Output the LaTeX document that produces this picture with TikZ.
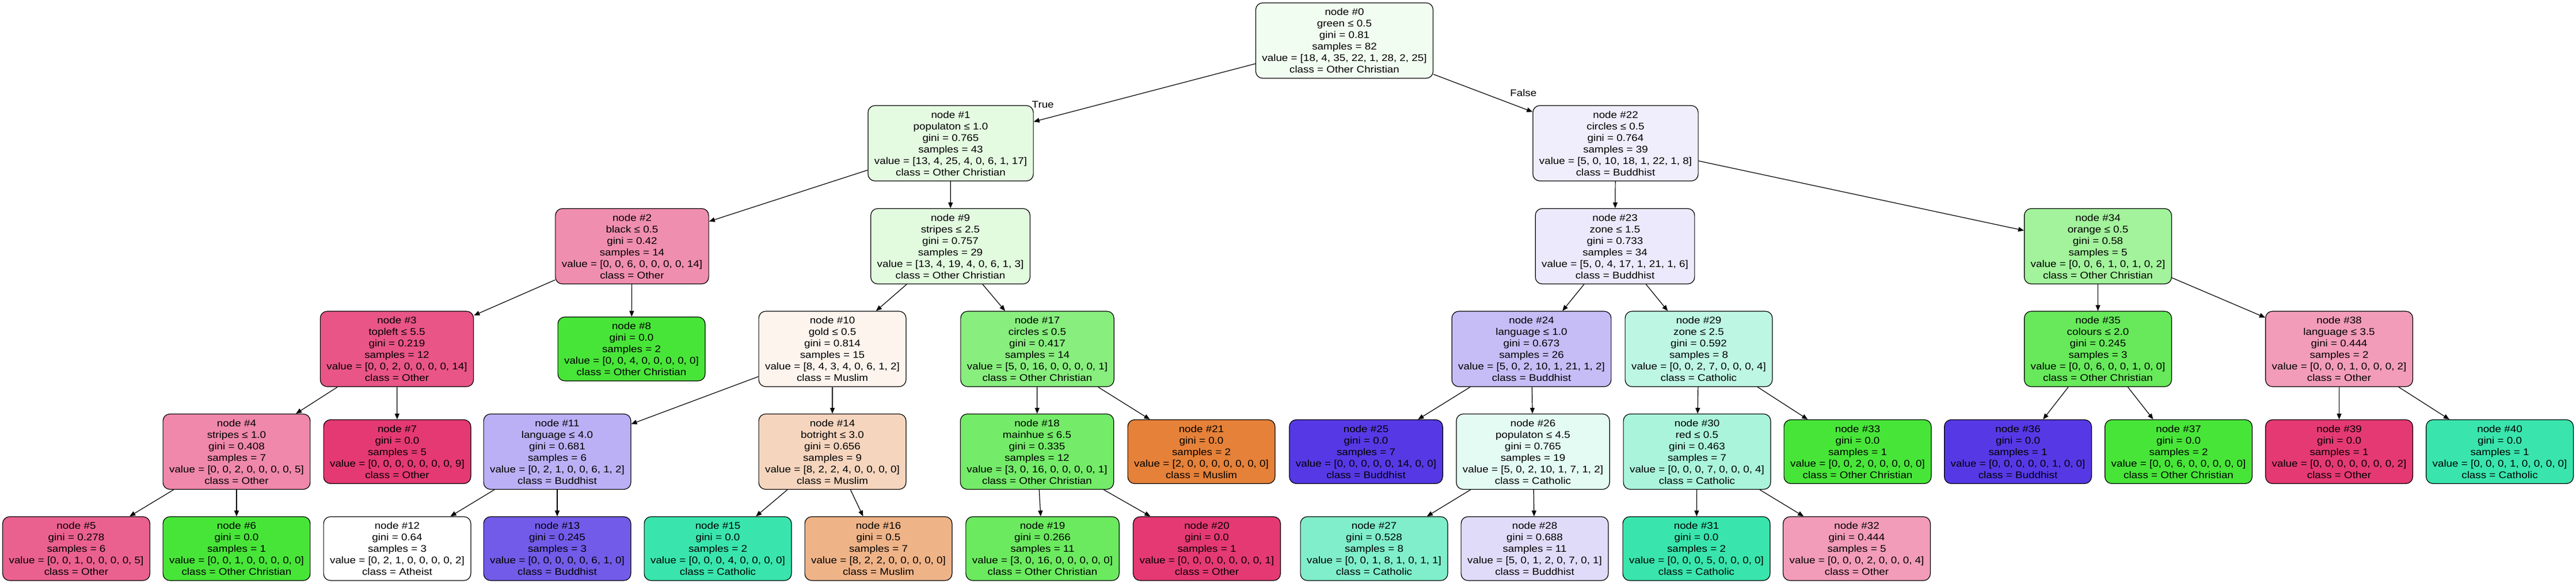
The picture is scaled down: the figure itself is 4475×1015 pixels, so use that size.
\documentclass[tikz,border=0pt]{standalone}
\usepackage{fontspec}
\setmainfont{Liberation Sans}[FakeStretch=1.12]
\usetikzlibrary{arrows.meta}

% class colours
\definecolor{muslim}{RGB}{229,129,57}
\definecolor{ochristian}{RGB}{72,229,57}
\definecolor{catholic}{RGB}{57,229,172}
\definecolor{buddhist}{RGB}{86,57,229}
\definecolor{other}{RGB}{229,57,115}

\begin{document}
\begin{tikzpicture}[->, >={Triangle[length=5pt,width=4pt]}, line width=0.6pt,
  x=0.5pt, y=-0.5pt, font=\fontsize{8.4}{10}\selectfont,
  split/.style={draw, rounded corners=6pt, align=center, inner xsep=5.5pt, minimum height=65.5pt},
  leaf/.style={split, minimum height=55.5pt}]

\useasboundingbox[fill=white] (0,0) rectangle (4475,1015);

% depth 0 and 1
\node[split, fill=ochristian!7!white] (n0) at (2335.5,70.5) {node \#0\\green ≤ 0.5\\gini = 0.81\\samples = 82\\value = [18, 4, 35, 22, 1, 28, 2, 25]\\class = Other Christian};
\node[split, fill=ochristian!15!white] (n1) at (1651.5,249) {node \#1\\populaton ≤ 1.0\\gini = 0.765\\samples = 43\\value = [13, 4, 25, 4, 0, 6, 1, 17]\\class = Other Christian};
\node[split, fill=buddhist!9!white] (n22) at (2806.5,249) {node \#22\\circles ≤ 0.5\\gini = 0.764\\samples = 39\\value = [5, 0, 10, 18, 1, 22, 1, 8]\\class = Buddhist};

% depth 2
\node[split, fill=other!57!white] (n2) at (1098,428) {node \#2\\black ≤ 0.5\\gini = 0.42\\samples = 14\\value = [0, 0, 6, 0, 0, 0, 0, 14]\\class = Other};
\node[split, fill=ochristian!16!white] (n9) at (1651,428) {node \#9\\stripes ≤ 2.5\\gini = 0.757\\samples = 29\\value = [13, 4, 19, 4, 0, 6, 1, 3]\\class = Other Christian};
\node[split, fill=buddhist!11!white] (n23) at (2805.5,428) {node \#23\\zone ≤ 1.5\\gini = 0.733\\samples = 34\\value = [5, 0, 4, 17, 1, 21, 1, 6]\\class = Buddhist};
\node[split, fill=ochristian!50!white] (n34) at (3644.5,428) {node \#34\\orange ≤ 0.5\\gini = 0.58\\samples = 5\\value = [0, 0, 6, 1, 0, 1, 0, 2]\\class = Other Christian};

% depth 3
\node[split, fill=other!86!white] (n3) at (689.5,606.5) {node \#3\\topleft ≤ 5.5\\gini = 0.219\\samples = 12\\value = [0, 0, 2, 0, 0, 0, 0, 14]\\class = Other};
\node[leaf, fill=ochristian] (n8) at (1097,606.5) {node \#8\\gini = 0.0\\samples = 2\\value = [0, 0, 4, 0, 0, 0, 0, 0]\\class = Other Christian};
\node[split, fill=muslim!9!white] (n10) at (1446,606.5) {node \#10\\gold ≤ 0.5\\gini = 0.814\\samples = 15\\value = [8, 4, 3, 4, 0, 6, 1, 2]\\class = Muslim};
\node[split, fill=ochristian!65!white] (n17) at (1802,606.5) {node \#17\\circles ≤ 0.5\\gini = 0.417\\samples = 14\\value = [5, 0, 16, 0, 0, 0, 0, 1]\\class = Other Christian};
\node[split, fill=buddhist!34!white] (n24) at (2660.5,606.5) {node \#24\\language ≤ 1.0\\gini = 0.673\\samples = 26\\value = [5, 0, 2, 10, 1, 21, 1, 2]\\class = Buddhist};
\node[split, fill=catholic!33!white] (n29) at (2951,606.5) {node \#29\\zone ≤ 2.5\\gini = 0.592\\samples = 8\\value = [0, 0, 2, 7, 0, 0, 0, 4]\\class = Catholic};
\node[split, fill=ochristian!83!white] (n35) at (3644.5,606.5) {node \#35\\colours ≤ 2.0\\gini = 0.245\\samples = 3\\value = [0, 0, 6, 0, 0, 1, 0, 0]\\class = Other Christian};
\node[split, fill=other!50!white] (n38) at (4063.5,606.5) {node \#38\\language ≤ 3.5\\gini = 0.444\\samples = 2\\value = [0, 0, 0, 1, 0, 0, 0, 2]\\class = Other};

% depth 4
\node[split, fill=other!60!white] (n4) at (411,785) {node \#4\\stripes ≤ 1.0\\gini = 0.408\\samples = 7\\value = [0, 0, 2, 0, 0, 0, 0, 5]\\class = Other};
\node[leaf, fill=other] (n7) at (690,785) {node \#7\\gini = 0.0\\samples = 5\\value = [0, 0, 0, 0, 0, 0, 0, 9]\\class = Other};
\node[split, fill=buddhist!40!white] (n11) at (968,785) {node \#11\\language ≤ 4.0\\gini = 0.681\\samples = 6\\value = [0, 2, 1, 0, 0, 6, 1, 2]\\class = Buddhist};
\node[split, fill=muslim!33!white] (n14) at (1446,785) {node \#14\\botright ≤ 3.0\\gini = 0.656\\samples = 9\\value = [8, 2, 2, 4, 0, 0, 0, 0]\\class = Muslim};
\node[split, fill=ochristian!76!white] (n18) at (1801.5,785) {node \#18\\mainhue ≤ 6.5\\gini = 0.335\\samples = 12\\value = [3, 0, 16, 0, 0, 0, 0, 1]\\class = Other Christian};
\node[leaf, fill=muslim] (n21) at (2087,785) {node \#21\\gini = 0.0\\samples = 2\\value = [2, 0, 0, 0, 0, 0, 0, 0]\\class = Muslim};
\node[leaf, fill=buddhist] (n25) at (2373,785) {node \#25\\gini = 0.0\\samples = 7\\value = [0, 0, 0, 0, 0, 14, 0, 0]\\class = Buddhist};
\node[split, fill=catholic!14!white] (n26) at (2663,785) {node \#26\\populaton ≤ 4.5\\gini = 0.765\\samples = 19\\value = [5, 0, 2, 10, 1, 7, 1, 2]\\class = Catholic};
\node[split, fill=catholic!43!white] (n30) at (2948,785) {node \#30\\red ≤ 0.5\\gini = 0.463\\samples = 7\\value = [0, 0, 0, 7, 0, 0, 0, 4]\\class = Catholic};
\node[leaf, fill=ochristian] (n33) at (3227,785) {node \#33\\gini = 0.0\\samples = 1\\value = [0, 0, 2, 0, 0, 0, 0, 0]\\class = Other Christian};
\node[leaf, fill=buddhist] (n36) at (3505.5,785) {node \#36\\gini = 0.0\\samples = 1\\value = [0, 0, 0, 0, 0, 1, 0, 0]\\class = Buddhist};
\node[leaf, fill=ochristian] (n37) at (3784.5,785) {node \#37\\gini = 0.0\\samples = 2\\value = [0, 0, 6, 0, 0, 0, 0, 0]\\class = Other Christian};
\node[leaf, fill=other] (n39) at (4063.5,785) {node \#39\\gini = 0.0\\samples = 1\\value = [0, 0, 0, 0, 0, 0, 0, 2]\\class = Other};
\node[leaf, fill=catholic] (n40) at (4342.5,785) {node \#40\\gini = 0.0\\samples = 1\\value = [0, 0, 0, 1, 0, 0, 0, 0]\\class = Catholic};

% depth 5
\node[leaf, fill=other!80!white] (n5) at (132.5,953.5) {node \#5\\gini = 0.278\\samples = 6\\value = [0, 0, 1, 0, 0, 0, 0, 5]\\class = Other};
\node[leaf, fill=ochristian] (n6) at (411,953.5) {node \#6\\gini = 0.0\\samples = 1\\value = [0, 0, 1, 0, 0, 0, 0, 0]\\class = Other Christian};
\node[leaf, fill=white] (n12) at (690,953.5) {node \#12\\gini = 0.64\\samples = 3\\value = [0, 2, 1, 0, 0, 0, 0, 2]\\class = Atheist};
\node[leaf, fill=buddhist!83!white] (n13) at (968,953.5) {node \#13\\gini = 0.245\\samples = 3\\value = [0, 0, 0, 0, 0, 6, 1, 0]\\class = Buddhist};
\node[leaf, fill=catholic] (n15) at (1247,953.5) {node \#15\\gini = 0.0\\samples = 2\\value = [0, 0, 0, 4, 0, 0, 0, 0]\\class = Catholic};
\node[leaf, fill=muslim!60!white] (n16) at (1526,953.5) {node \#16\\gini = 0.5\\samples = 7\\value = [8, 2, 2, 0, 0, 0, 0, 0]\\class = Muslim};
\node[leaf, fill=ochristian!81!white] (n19) at (1811,953.5) {node \#19\\gini = 0.266\\samples = 11\\value = [3, 0, 16, 0, 0, 0, 0, 0]\\class = Other Christian};
\node[leaf, fill=other] (n20) at (2096.5,953.5) {node \#20\\gini = 0.0\\samples = 1\\value = [0, 0, 0, 0, 0, 0, 0, 1]\\class = Other};
\node[leaf, fill=catholic!64!white] (n27) at (2387,953.5) {node \#27\\gini = 0.528\\samples = 8\\value = [0, 0, 1, 8, 1, 0, 1, 1]\\class = Catholic};
\node[leaf, fill=buddhist!18!white] (n28) at (2666,953.5) {node \#28\\gini = 0.688\\samples = 11\\value = [5, 0, 1, 2, 0, 7, 0, 1]\\class = Buddhist};
\node[leaf, fill=catholic] (n31) at (2947,953.5) {node \#31\\gini = 0.0\\samples = 2\\value = [0, 0, 0, 5, 0, 0, 0, 0]\\class = Catholic};
\node[leaf, fill=other!50!white] (n32) at (3225.5,953.5) {node \#32\\gini = 0.444\\samples = 5\\value = [0, 0, 0, 2, 0, 0, 0, 4]\\class = Other};

\node (lTrue) at ([xshift=8pt,yshift=0.5pt]n1.north east) {True};
\node (lFalse) at ([xshift=-8pt,yshift=10.5pt]n22.north west) {False};

\path (n0) edge (n1) edge (n22)
  (n1) edge (n2) edge (n9)
  (n2) edge (n3) edge (n8)
  (n3) edge (n4) edge (n7)
  (n4) edge (n5) edge (n6)
  (n9) edge (n10) edge (n17)
  (n10) edge (n11) edge (n14)
  (n11) edge (n12) edge (n13)
  (n14) edge (n15) edge (n16)
  (n17) edge (n18) edge (n21)
  (n18) edge (n19) edge (n20)
  (n22) edge (n23) edge (n34)
  (n23) edge (n24) edge (n29)
  (n24) edge (n25) edge (n26)
  (n26) edge (n27) edge (n28)
  (n29) edge (n30) edge (n33)
  (n30) edge (n31) edge (n32)
  (n34) edge (n35) edge (n38)
  (n35) edge (n36) edge (n37)
  (n38) edge (n39) edge (n40)
  ;

\end{tikzpicture}
\end{document}
